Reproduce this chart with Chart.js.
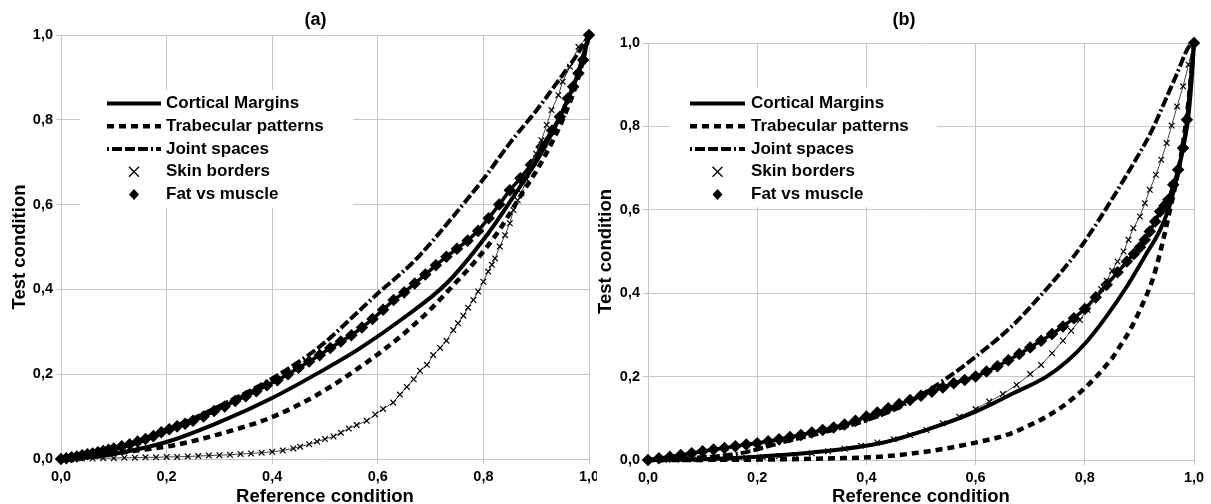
<!DOCTYPE html>
<html>
<head>
<meta charset="utf-8">
<script src="https://cdn.jsdelivr.net/npm/chart.js@4.4.1/dist/chart.umd.min.js"></script>
<style>
  html, body { margin: 0; padding: 0; background: #fff; }
  canvas { position: absolute; top: 0; }
  #chartA { left: 0; }
  #chartB { left: 597px; background: #fff; }
</style>
</head>
<body>
<canvas id="chartA" width="631" height="504"></canvas>
<canvas id="chartB" width="614" height="504"></canvas>
<script>
// ---------------- DATA ----------------
const LABELS = ['Cortical Margins', 'Trabecular patterns', 'Joint spaces', 'Skin borders', 'Fat vs muscle'];
const TICKS = [0, 0.2, 0.4, 0.6, 0.8, 1.0];

// panel (a)
const aCortX = [0, 0.05, 0.1, 0.2, 0.3, 0.4, 0.5, 0.566, 0.648, 0.73, 0.809, 0.857, 0.913, 0.951, 0.977, 1];
const aCortY = [0, 0.004, 0.012, 0.04, 0.087, 0.144, 0.212, 0.261, 0.332, 0.414, 0.532, 0.619, 0.729, 0.823, 0.902, 1];

const aTrabX = [0, 0.06, 0.131, 0.212, 0.326, 0.402, 0.49, 0.579, 0.639, 0.699, 0.749, 0.781, 0.828, 0.87, 0.91, 0.95, 0.98, 1];
const aTrabY = [0, 0.006, 0.018, 0.032, 0.068, 0.1, 0.155, 0.228, 0.285, 0.352, 0.418, 0.461, 0.536, 0.62, 0.7, 0.8, 0.9, 1];

const aJointX = [0, 0.1, 0.2, 0.3, 0.4, 0.49, 0.566, 0.604, 0.648, 0.68, 0.742, 0.803, 0.85, 0.901, 0.939, 0.977, 1];
const aJointY = [0, 0.022, 0.068, 0.125, 0.19, 0.265, 0.351, 0.395, 0.442, 0.481, 0.571, 0.665, 0.745, 0.823, 0.887, 0.953, 1];

const aSkinX = [0, 0.02, 0.04, 0.06, 0.08, 0.1, 0.12, 0.14, 0.16, 0.18, 0.2, 0.22, 0.24, 0.26, 0.28, 0.3, 0.32, 0.34, 0.36, 0.38, 0.4,
  0.42, 0.44, 0.453, 0.47, 0.485, 0.5, 0.516, 0.53, 0.545, 0.56, 0.579, 0.595, 0.61, 0.629, 0.642, 0.655, 0.668, 0.68, 0.693,
  0.705, 0.718, 0.73, 0.743, 0.752, 0.762, 0.771, 0.781, 0.79, 0.8, 0.809, 0.816, 0.822, 0.831, 0.841, 0.85, 0.857, 0.865,
  0.872, 0.882, 0.89, 0.9, 0.91, 0.92, 0.929, 0.942, 0.95, 0.964, 0.98, 1];
const aSkinY = [0, 0, 0.001, 0.001, 0.002, 0.002, 0.003, 0.003, 0.004, 0.004, 0.005, 0.005, 0.006, 0.007, 0.008, 0.009, 0.01, 0.012, 0.013, 0.015, 0.017,
  0.02, 0.025, 0.029, 0.035, 0.041, 0.047, 0.053, 0.062, 0.072, 0.08, 0.09, 0.105, 0.118, 0.133, 0.152, 0.17, 0.188, 0.208, 0.222,
  0.245, 0.262, 0.279, 0.304, 0.32, 0.338, 0.357, 0.375, 0.395, 0.418, 0.442, 0.458, 0.473, 0.501, 0.528, 0.556, 0.587, 0.61,
  0.627, 0.66, 0.69, 0.72, 0.752, 0.788, 0.823, 0.858, 0.89, 0.925, 0.972, 1];

const aFatX = [0, 0.01, 0.02, 0.03, 0.04, 0.05, 0.06, 0.07, 0.08, 0.09, 0.1, 0.115, 0.13, 0.145, 0.16, 0.175, 0.19, 0.205, 0.22, 0.235,
  0.25, 0.27, 0.29, 0.31, 0.33, 0.35, 0.37, 0.39, 0.41, 0.43, 0.45, 0.47, 0.49, 0.51, 0.53, 0.55, 0.57, 0.59, 0.61, 0.63,
  0.65, 0.67, 0.69, 0.71, 0.73, 0.75, 0.77, 0.79, 0.81, 0.83, 0.85, 0.87, 0.89, 0.91, 0.93, 0.945, 0.96, 0.97, 0.98, 0.989, 1];
const aFatY = [0, 0.002, 0.004, 0.006, 0.009, 0.011, 0.013, 0.016, 0.019, 0.022, 0.025, 0.03, 0.035, 0.041, 0.047, 0.054, 0.063, 0.07, 0.077, 0.083,
  0.09, 0.1, 0.113, 0.124, 0.137, 0.148, 0.16, 0.174, 0.186, 0.2, 0.215, 0.23, 0.245, 0.262, 0.277, 0.292, 0.31, 0.33, 0.352, 0.375,
  0.393, 0.414, 0.435, 0.457, 0.477, 0.496, 0.515, 0.538, 0.568, 0.6, 0.634, 0.662, 0.694, 0.736, 0.775, 0.807, 0.85, 0.878, 0.91, 0.941, 1];

// panel (b)
const bCortX = [0, 0.1, 0.2, 0.3, 0.425, 0.516, 0.6, 0.669, 0.73, 0.767, 0.803, 0.84, 0.877, 0.913, 0.938, 0.956, 0.971, 0.98, 0.989, 0.995, 1];
const bCortY = [0, 0.002, 0.008, 0.018, 0.04, 0.075, 0.116, 0.16, 0.2, 0.236, 0.283, 0.345, 0.416, 0.495, 0.552, 0.612, 0.692, 0.748, 0.816, 0.9, 1];

const bTrabX = [0, 0.2, 0.34, 0.425, 0.486, 0.547, 0.608, 0.657, 0.693, 0.73, 0.761, 0.785, 0.803, 0.828, 0.852, 0.864, 0.883, 0.901, 0.926, 0.944, 0.956, 0.975, 0.99, 1];
const bTrabY = [0, 0.001, 0.004, 0.008, 0.016, 0.028, 0.044, 0.06, 0.08, 0.104, 0.13, 0.155, 0.176, 0.21, 0.248, 0.272, 0.312, 0.36, 0.44, 0.53, 0.6, 0.72, 0.86, 1];

const bJointX = [0, 0.08, 0.168, 0.254, 0.339, 0.4, 0.462, 0.547, 0.608, 0.669, 0.712, 0.755, 0.791, 0.828, 0.864, 0.895, 0.922, 0.944, 0.968, 0.993, 1];
const bJointY = [0, 0.005, 0.016, 0.045, 0.072, 0.095, 0.128, 0.196, 0.256, 0.324, 0.384, 0.448, 0.508, 0.58, 0.656, 0.724, 0.788, 0.852, 0.924, 0.996, 1];

const bSkinX = [0, 0.03, 0.06, 0.09, 0.12, 0.15, 0.18, 0.21, 0.24, 0.27, 0.3, 0.33, 0.36, 0.39, 0.42, 0.45, 0.48, 0.51, 0.54, 0.57,
  0.6, 0.625, 0.65, 0.675, 0.7, 0.72, 0.74, 0.76, 0.775, 0.791, 0.805, 0.82, 0.83, 0.84, 0.85, 0.86, 0.871, 0.88, 0.889, 0.901,
  0.91, 0.919, 0.93, 0.94, 0.95, 0.959, 0.969, 0.98, 0.99, 1];
const bSkinY = [0, 0.0005, 0.001, 0.002, 0.003, 0.004, 0.005, 0.007, 0.009, 0.012, 0.016, 0.021, 0.027, 0.034, 0.042, 0.05, 0.06, 0.072, 0.088, 0.104,
  0.122, 0.14, 0.158, 0.18, 0.206, 0.228, 0.256, 0.286, 0.31, 0.336, 0.36, 0.39, 0.41, 0.43, 0.454, 0.476, 0.5, 0.528, 0.556, 0.584,
  0.616, 0.648, 0.684, 0.72, 0.76, 0.802, 0.848, 0.896, 0.948, 1];

const bFatX = [0, 0.02, 0.04, 0.06, 0.08, 0.1, 0.12, 0.14, 0.16, 0.18, 0.2, 0.22, 0.24, 0.26, 0.28, 0.3, 0.32, 0.34, 0.36, 0.38,
  0.4, 0.42, 0.44, 0.46, 0.48, 0.5, 0.52, 0.54, 0.56, 0.58, 0.6, 0.62, 0.64, 0.66, 0.68, 0.7, 0.72, 0.74, 0.76, 0.78,
  0.8, 0.82, 0.84, 0.86, 0.877, 0.89, 0.901, 0.91, 0.919, 0.929, 0.938, 0.946, 0.953, 0.962, 0.971, 0.98, 0.987, 1];
const bFatY = [0, 0.004, 0.008, 0.012, 0.016, 0.021, 0.025, 0.029, 0.033, 0.037, 0.04, 0.045, 0.05, 0.055, 0.06, 0.066, 0.072, 0.078, 0.085, 0.094,
  0.104, 0.114, 0.124, 0.134, 0.144, 0.154, 0.164, 0.174, 0.184, 0.192, 0.2, 0.212, 0.225, 0.239, 0.254, 0.27, 0.286, 0.302, 0.32, 0.34,
  0.362, 0.39, 0.42, 0.45, 0.476, 0.494, 0.51, 0.528, 0.548, 0.572, 0.596, 0.61, 0.624, 0.66, 0.696, 0.748, 0.816, 1];

// ---------------- STYLE ----------------
const FONT = '"Liberation Sans", Arial, sans-serif';
const GRID = '#c6c6c6';

function pts(xs, ys) {
  return xs.map((x, i) => ({ x: x, y: ys[i] }));
}

function makeDatasets(d) {
  return [
    { label: LABELS[0], data: pts(d.cortX, d.cortY), showLine: true, borderColor: '#000', borderWidth: 4,
      pointRadius: 0, cubicInterpolationMode: 'monotone', clip: false },
    { label: LABELS[1], data: pts(d.trabX, d.trabY), showLine: true, borderColor: '#000', borderWidth: 4.5,
      borderDash: [7, 5], pointRadius: 0, cubicInterpolationMode: 'monotone', clip: false },
    { label: LABELS[2], data: pts(d.jointX, d.jointY), showLine: true, borderColor: '#000', borderWidth: 4,
      borderDash: [2, 3, 10, 3, 10, 3, 10, 3], pointRadius: 0, cubicInterpolationMode: 'monotone', clip: false },
    { label: LABELS[3], data: pts(d.skinX, d.skinY), showLine: true, borderColor: '#444', borderWidth: 1,
      pointStyle: 'crossRot', pointRadius: 4, pointBorderWidth: 1.2, pointBorderColor: '#000', marker: 'cross', clip: false },
    { label: LABELS[4], data: pts(d.fatX, d.fatY), showLine: true, borderColor: '#000', borderWidth: 3.5,
      pointStyle: 'rectRot', pointRadius: 3.8, pointBackgroundColor: '#000', pointBorderColor: '#000', marker: 'diamond', clip: false }
  ];
}

// title + legend box drawn inside the plot
const panelDecor = {
  id: 'panelDecor',
  beforeDatasetsDraw(chart, args, o) {
    const ctx = chart.ctx;
    ctx.save();
    ctx.fillStyle = '#fff';
    ctx.fillRect(o.box[0], o.box[1], o.box[2], o.box[3]);
    ctx.font = 'bold 17px ' + FONT;
    ctx.textBaseline = 'middle';
    ctx.textAlign = 'left';
    chart.data.datasets.forEach((ds, i) => {
      const y = o.row0 + i * o.rowStep;
      const xm = (o.line0 + o.line1) / 2;
      ctx.strokeStyle = '#000';
      ctx.fillStyle = '#000';
      if (ds.marker === 'cross') {
        ctx.lineWidth = 1.3;
        ctx.setLineDash([]);
        ctx.beginPath();
        ctx.moveTo(xm - 5, y - 5); ctx.lineTo(xm + 5, y + 5);
        ctx.moveTo(xm + 5, y - 5); ctx.lineTo(xm - 5, y + 5);
        ctx.stroke();
      } else if (ds.marker === 'diamond') {
        ctx.beginPath();
        ctx.moveTo(xm, y - 5.5); ctx.lineTo(xm + 5, y); ctx.lineTo(xm, y + 5.5); ctx.lineTo(xm - 5, y);
        ctx.closePath();
        ctx.fill();
      } else {
        ctx.lineWidth = ds.borderWidth;
        ctx.setLineDash(ds.borderDash || []);
        ctx.beginPath();
        ctx.moveTo(o.line0, y); ctx.lineTo(o.line1, y);
        ctx.stroke();
      }
      ctx.setLineDash([]);
      ctx.fillText(ds.label, o.textX, y);
    });
    ctx.restore();
  },
  afterDraw(chart, args, o) {
    const ctx = chart.ctx;
    ctx.save();
    ctx.font = 'bold 18px ' + FONT;
    ctx.fillStyle = '#000';
    ctx.textAlign = 'center';
    ctx.textBaseline = 'middle';
    ctx.fillText(o.title, chart.width / 2, 20);
    ctx.restore();
  }
};

function fmt(v) {
  return v.toFixed(1).replace('.', ',');
}

function makeChart(id, d, p) {
  const tickFont = { family: FONT, size: 14.5, weight: 'bold' };
  const titleFont = { family: FONT, size: 18.5, weight: 'bold', lineHeight: 1 };
  return new Chart(document.getElementById(id), {
    type: 'scatter',
    data: { datasets: makeDatasets(d) },
    options: {
      responsive: false,
      animation: false,
      layout: { autoPadding: false, padding: { left: 0, right: p.right, top: p.top, bottom: 0 } },
      plugins: {
        legend: { display: false },
        tooltip: { enabled: false },
        panelDecor: p.decor
      },
      scales: {
        x: {
          type: 'linear', min: 0, max: 1,
          afterFit: s => { s.height = p.xHeight; },
          afterBuildTicks: s => { s.ticks = TICKS.map(v => ({ value: v })); },
          ticks: { callback: fmt, font: tickFont, color: '#000', padding: 4, maxRotation: 0 },
          grid: { color: GRID, lineWidth: 1, tickLength: 5 },
          border: { color: GRID },
          title: { display: true, text: 'Reference condition', font: titleFont, color: '#000', padding: { top: 0, bottom: -2 } }
        },
        y: {
          type: 'linear', min: 0, max: 1,
          afterFit: s => { s.width = p.yWidth; },
          afterBuildTicks: s => { s.ticks = TICKS.map(v => ({ value: v })); },
          ticks: { callback: fmt, font: tickFont, color: '#000', padding: 3 },
          grid: { color: GRID, lineWidth: 1, tickLength: 5 },
          border: { color: GRID },
          title: { display: true, text: 'Test condition', font: titleFont, color: '#000', padding: { top: p.yTitlePad, bottom: 0 } }
        }
      }
    },
    plugins: [panelDecor]
  });
}

makeChart('chartA',
  { cortX: aCortX, cortY: aCortY, trabX: aTrabX, trabY: aTrabY, jointX: aJointX, jointY: aJointY,
    skinX: aSkinX, skinY: aSkinY, fatX: aFatX, fatY: aFatY },
  { right: 42, top: 35, xHeight: 45, yWidth: 61, yTitlePad: 11,
    decor: { title: '(a)', box: [80, 90, 273, 118], line0: 107, line1: 161, textX: 166, row0: 103.5, rowStep: 22.75 } });

makeChart('chartB',
  { cortX: bCortX, cortY: bCortY, trabX: bTrabX, trabY: bTrabY, jointX: bJointX, jointY: bJointY,
    skinX: bSkinX, skinY: bSkinY, fatX: bFatX, fatY: bFatY },
  { right: 17, top: 43, xHeight: 44, yWidth: 51, yTitlePad: 0,
    decor: { title: '(b)', box: [73, 88, 267, 119], line0: 93, line1: 148, textX: 154, row0: 103.5, rowStep: 22.75 } });
</script>
</body>
</html>
